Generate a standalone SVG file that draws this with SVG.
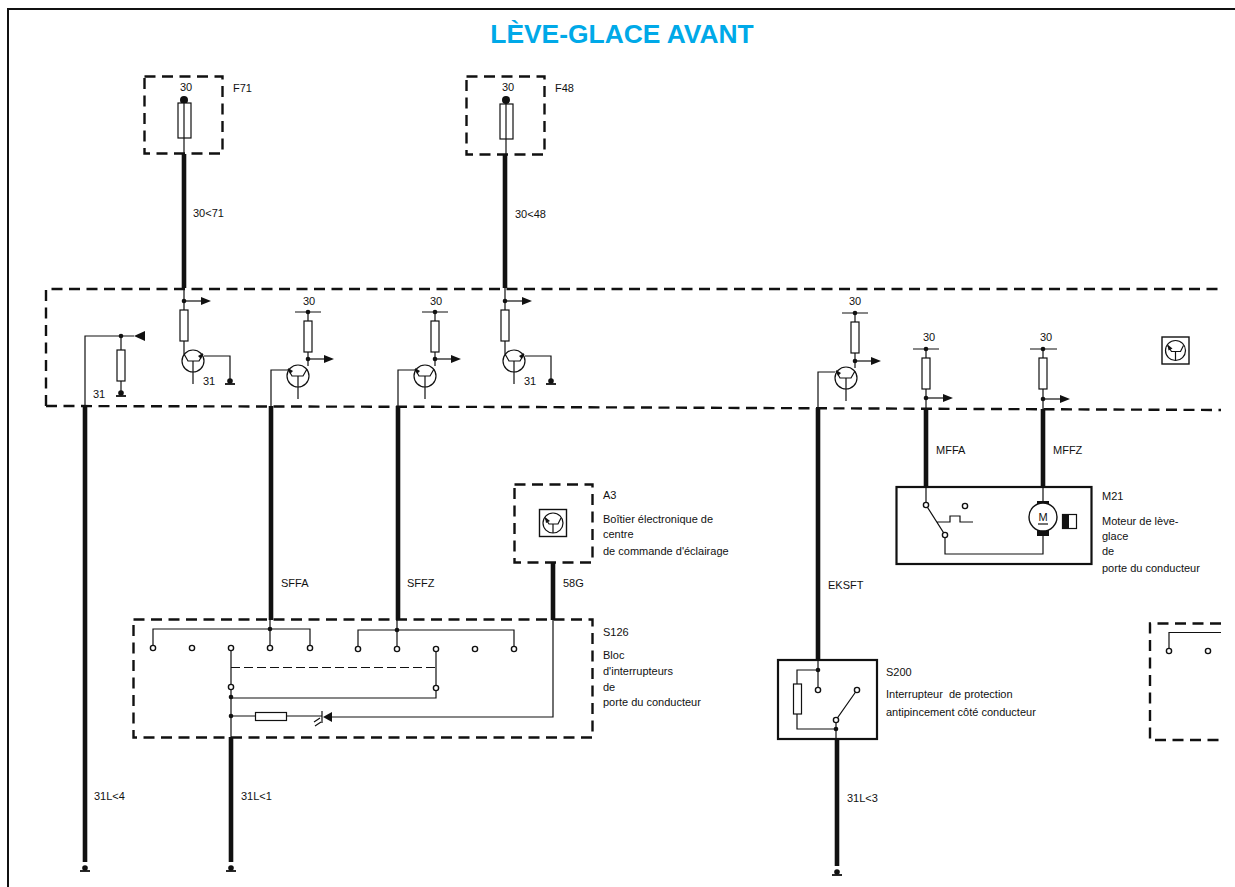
<svg xmlns="http://www.w3.org/2000/svg" width="1235" height="887" viewBox="0 0 1235 887">
<style>
text{font-family:"Liberation Sans",Arial,sans-serif;font-size:11px;fill:#111}
.c{text-anchor:middle}
.title{font-size:26.400px;font-weight:bold;fill:#00a9e8;text-anchor:middle}
.t{fill:none;stroke:#111;stroke-width:1.2}
.w{fill:none;stroke:#111;stroke-width:4.600}
.d{fill:none;stroke:#111;stroke-width:2.400;stroke-dasharray:11 6.500}
.dt{fill:none;stroke:#111;stroke-width:1.2;stroke-dasharray:9 4}
.b{fill:none;stroke:#111;stroke-width:2.200}
.r{fill:#fff;stroke:#111;stroke-width:1.2}
.f{fill:#111;stroke:none}
.o{fill:#fff;stroke:#111;stroke-width:1.400}
</style>
<defs>
<marker id="arr" markerWidth="10" markerHeight="8" refX="0" refY="4" orient="auto" markerUnits="userSpaceOnUse"><path d="M0 0L10 4L0 8Z" fill="#111"/></marker>
<circle id="dot" r="2.300" class="f"/>
<circle id="open" r="2.600" class="o"/>
<rect id="res" x="-4" y="0" width="8" height="31" class="r"/>
<g id="gnd"><circle cy="-3" r="2.800" class="f"/><path d="M-5 0H5" fill="none" stroke="#111" stroke-width="1.800"/></g>
<g id="tr1"><circle r="11" class="t"/><path d="M-9 -7L-5 0H6L10 -7M0 0V23" class="t"/><path d="M10 -8L5 -5L8 -2Z" class="f"/></g>
<g id="tr2"><circle r="11" class="t"/><path d="M9 -7L5 0H-6L-10 -7M0 0V23" class="t"/><path d="M-10 -8L-5 -5L-8 -2Z" class="f"/></g>
<g id="icon"><rect x="-13.500" y="-13.500" width="27" height="27" fill="#fff" stroke="#111" stroke-width="1.400"/><circle r="10" class="t"/><path d="M-8 -5L-4 1H5L8 -5M0 1V10" class="t"/><path d="M-8 -6L-3 -2L-7 0Z" class="f"/></g>
</defs>
<rect width="1235" height="887" fill="#fff"/>
<g id="frame"><path d="M8 887V9H1235" fill="none" stroke="#111" stroke-width="2"/></g>
<text id="title" x="622" y="43" class="title">LÈVE-GLACE AVANT</text>

<g id="connectors">
<path class="w" d="M184 154V288M505 155V288M85 406V862M231 737V862M271 406V620M398 406V620M553 562V620M818 408V660M926 409V487M1043 409V487M837 739V866"/>
<path class="t" d="M184 288V341M505 288V341M85 406V336H134M271 406V370H288M398 406V370H415M818 408V372H835M926 398V409M1043 399V409M553 620V717H332"/>
<path class="t" marker-end="url(#arr)" d="M184 301H201"/>
<path class="t" marker-end="url(#arr)" d="M505 301H522"/>
<path class="t" marker-end="url(#arr)" d="M308 359H324"/>
<path class="t" marker-end="url(#arr)" d="M435 359H451"/>
<path class="t" marker-end="url(#arr)" d="M855 361H871"/>
<path class="t" marker-end="url(#arr)" d="M926 398H943"/>
<path class="t" marker-end="url(#arr)" d="M1043 399H1060"/>
</g>

<g id="F71"><rect x="144.500" y="76.500" width="78" height="77" class="d"/><text x="186" y="91" class="c">30</text><circle cx="184" cy="100" r="4" class="f"/><rect x="178" y="103" width="13" height="35" class="r"/><path class="t" d="M184 100V154"/><text x="233" y="92">F71</text><text x="193" y="217">30&lt;71</text></g>
<g id="F48"><rect x="466.500" y="76.500" width="78" height="78" class="d"/><text x="508" y="91" class="c">30</text><circle cx="506" cy="100" r="4" class="f"/><rect x="500" y="104" width="13" height="35" class="r"/><path class="t" d="M506 100V155"/><text x="555" y="92">F48</text><text x="515" y="218">30&lt;48</text></g>

<g id="module"><path class="d" d="M46 406V289H1221M46 406L520 407L1221 410"/>
<use href="#icon" x="1175.500" y="350.500"/>
</g>
<g id="branch-left"><use href="#dot" x="121" y="336"/><path class="t" d="M121 336V395"/><use href="#res" x="121" y="350"/><use href="#gnd" x="121" y="396"/><path class="f" d="M134 336L145 331V341Z"/><text x="93" y="398">31</text><text x="94" y="800">31L&lt;4</text><use href="#gnd" x="85" y="871"/></g>
<g id="branch-184"><use href="#dot" x="184" y="301"/><use href="#res" x="184" y="310"/><path class="t" d="M184 341V354M204 356H230V380"/><use href="#tr1" x="193" y="361"/><use href="#gnd" x="230" y="384"/><text x="203" y="385">31</text></g>
<g id="branch-SFFA"><path class="t" d="M295 312H321M308 312V366"/><use href="#dot" x="308" y="312"/><use href="#res" x="308" y="321"/><use href="#dot" x="308" y="359"/><use href="#tr2" x="298" y="376"/><text x="309" y="305" class="c">30</text><text x="281" y="587">SFFA</text></g>
<g id="branch-SFFZ"><path class="t" d="M422 312H448M435 312V366"/><use href="#dot" x="435" y="312"/><use href="#res" x="435" y="321"/><use href="#dot" x="435" y="359"/><use href="#tr2" x="425" y="376"/><text x="436" y="305" class="c">30</text><text x="407" y="587">SFFZ</text></g>
<g id="branch-505"><use href="#dot" x="505" y="301"/><use href="#res" x="505" y="310"/><path class="t" d="M505 341V354M525 356H551V380"/><use href="#tr1" x="514" y="361"/><use href="#gnd" x="551" y="384"/><text x="524" y="385">31</text></g>
<g id="branch-EKSFT"><path class="t" d="M842 313H868M855 313V368"/><use href="#dot" x="855" y="313"/><use href="#res" x="855" y="322"/><use href="#dot" x="855" y="361"/><use href="#tr2" x="846" y="378"/><text x="855" y="305" class="c">30</text><text x="828" y="589">EKSFT</text></g>
<g id="branch-MFFA"><path class="t" d="M913 349H939M926 349V398"/><use href="#dot" x="926" y="349"/><use href="#res" x="926" y="358"/><use href="#dot" x="926" y="398"/><text x="929" y="341" class="c">30</text><text x="936" y="454">MFFA</text></g>
<g id="branch-MFFZ"><path class="t" d="M1030 349H1057M1043 349V399"/><use href="#dot" x="1043" y="349"/><use href="#res" x="1043" y="358"/><use href="#dot" x="1043" y="399"/><text x="1046" y="341" class="c">30</text><text x="1053" y="454">MFFZ</text></g>

<g id="A3"><rect x="514.500" y="484.500" width="78" height="78" class="d"/><use href="#icon" x="553" y="523"/><text x="603" y="499">A3</text><text x="603" y="523">Boîtier électronique de</text><text x="603" y="538">centre</text><text x="603" y="555">de commande d'éclairage</text><text x="563" y="587">58G</text></g>

<g id="M21"><rect x="896.500" y="487" width="195" height="77" fill="#fff" stroke="#111" stroke-width="2.200"/>
<path class="t" d="M926 487V505L945 535V554H1043V536M937 522H950V516H960V522H973M1043 487V501"/>
<use href="#open" x="926" y="505"/><use href="#open" x="965" y="506"/><use href="#open" x="945" y="535"/>
<rect x="1037" y="501" width="12" height="7" class="f"/><rect x="1037" y="528" width="12" height="8" class="f"/>
<circle cx="1043" cy="517" r="14" class="o"/><text x="1043" y="521" class="c">M</text><path class="t" d="M1038 524H1048"/>
<rect x="1062.500" y="514.500" width="14" height="14" fill="#fff" stroke="#111" stroke-width="1.2"/><rect x="1062" y="514" width="7" height="15" class="f"/>
<text x="1102" y="500">M21</text><text x="1102" y="525">Moteur de lève-</text><text x="1102" y="540">glace</text><text x="1102" y="555">de</text><text x="1102" y="572">porte du conducteur</text></g>

<g id="S126"><rect x="133.500" y="619.500" width="459" height="118" class="d"/>
<path class="t" d="M153 648V629H310V648M270 620V648M358 649V630H514V649M397 620V649M231 648V737M436 649V698H231M231 716H255M286 716H322"/>
<path class="dt" d="M231 667.500H436"/>
<use href="#open" x="153" y="648"/><use href="#open" x="192" y="648"/><use href="#open" x="231" y="648"/><use href="#open" x="270" y="648"/><use href="#open" x="310" y="648"/>
<use href="#open" x="358" y="649"/><use href="#open" x="397" y="649"/><use href="#open" x="436" y="649"/><use href="#open" x="475" y="649"/><use href="#open" x="514" y="649"/>
<use href="#open" x="231" y="687"/><use href="#open" x="436" y="688"/>
<use href="#dot" x="270" y="629"/><use href="#dot" x="397" y="630"/><use href="#dot" x="231" y="697"/><use href="#dot" x="231" y="716"/>
<rect x="255.500" y="712.500" width="31" height="8" class="r"/>
<path class="f" d="M323 717L332 712V722Z"/><path class="t" stroke-width="1.600" d="M322 711V723M314 722L320 718M315 726L321 722"/>
<text x="603" y="636">S126</text><text x="603" y="659">Bloc</text><text x="603" y="675">d'interrupteurs</text><text x="603" y="691">de</text><text x="603" y="706">porte du conducteur</text>
<text x="241" y="800">31L&lt;1</text><use href="#gnd" x="231" y="871"/></g>

<g id="S200"><rect x="778" y="660" width="99" height="79" fill="#fff" stroke="#111" stroke-width="2.200"/>
<path class="t" d="M818 660V690M818 670H797V729H836V739M836 729V720L857 690"/>
<rect x="793.500" y="684" width="8" height="30" class="r"/>
<use href="#dot" x="818" y="670"/><use href="#dot" x="836" y="729"/><use href="#open" x="818" y="690"/><use href="#open" x="857" y="690"/><use href="#open" x="836" y="720"/>
<text x="886" y="676">S200</text><text x="886" y="698" xml:space="preserve">Interrupteur  de protection</text><text x="886" y="716">antipincement côté conducteur</text>
<text x="847" y="802">31L&lt;3</text><use href="#gnd" x="837" y="875"/></g>

<g id="partial-right"><path class="d" d="M1221 623.500H1150V740H1221"/><path class="t" d="M1169 651V632.500H1221"/><use href="#open" x="1169" y="651"/><use href="#open" x="1208" y="651"/></g>
</svg>
